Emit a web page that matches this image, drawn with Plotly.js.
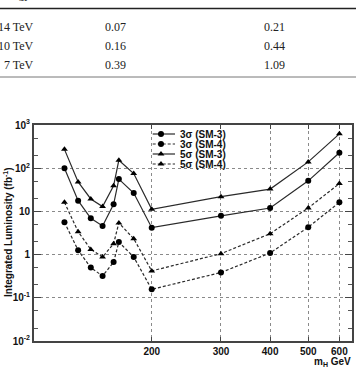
<!DOCTYPE html>
<html>
<head>
<meta charset="utf-8">
<script src="https://cdn.plot.ly/plotly-3.0.1.min.js"></script>
<style>html,body{margin:0;padding:0;background:#fff;}#chart{width:356px;height:368px;}</style>
</head>
<body>
<div id="chart"></div>
<script>
// ---- data ----
const masses = [120, 130, 140, 150, 160, 165, 180, 200, 300, 400, 500, 600];
const sigma3_SM3 = [100, 17.7, 6.9, 4.6, 14.6, 56, 26.6, 4.2, 7.9, 12, 51, 228];
const sigma3_SM4 = [5.6, 1.26, 0.50, 0.32, 0.67, 1.95, 0.88, 0.157, 0.385, 1.09, 4.3, 16.2];
const sigma5_SM3 = [273, 48, 19.4, 12.9, 39, 153, 75, 11.2, 21.9, 32.9, 140, 624];
const sigma5_SM4 = [16.2, 3.4, 1.32, 0.88, 1.79, 5.4, 2.33, 0.42, 1.05, 3.04, 12, 44];
const seriesNames = ['3σ (SM-3)', '3σ (SM-4)', '5σ (SM-3)', '5σ (SM-4)'];
const xTickVals = [200, 300, 400, 500, 600];
const xTickText = ['200', '300', '400', '500', '600'];
const yTickVals = [0.01, 0.1, 1, 10, 100, 1000];
const yTickText = ['10<sup>-2</sup>', '10<sup>-1</sup>', '1', '10', '10<sup>2</sup>', '10<sup>3</sup>'];
// table above the figure
const tableEnergy = ['14 TeV', '10 TeV', '7 TeV'];
const tableCol1 = ['0.07', '0.16', '0.39'];
const tableCol2 = ['0.21', '0.44', '1.09'];

// ---- styling ----
const seriesY = [sigma3_SM3, sigma3_SM4, sigma5_SM3, sigma5_SM4];
const symbols = ['circle', 'circle', 'triangle-up', 'triangle-up'];
const dashes = ['solid', '3px,2px', 'solid', '3px,2px'];
const sizes = [6, 6, 6, 6];
const SANS = 'Liberation Sans, Arial, sans-serif';
const SERIF = 'Liberation Serif, Times New Roman, serif';

// plot area in pixels
const L = 34, R = 352, T = 125, B = 341, W = 356, H = 368;
const px = x => (x - L) / (R - L);
const py = y => (B - y) / (B - T);

const traces = seriesY.map((ys, i) => ({
  x: masses, y: ys, type: 'scatter', mode: 'lines+markers',
  name: seriesNames[i], showlegend: false,
  line: {color: '#2a2a2a', width: 1.2, dash: dashes[i]},
  marker: {symbol: symbols[i], size: sizes[i], color: '#000'}
}));

// custom compact legend (samples on an overlay 0..1 axis pair)
const legRowsPx = [134, 144, 154, 164];
const annotations = [];
seriesNames.forEach((n, i) => {
  const yy = py(legRowsPx[i]);
  traces.push({
    x: [px(152.7), px(175)], y: [yy, yy], xaxis: 'x2', yaxis: 'y2',
    type: 'scatter', mode: 'lines', showlegend: false, hoverinfo: 'skip',
    line: {color: '#2a2a2a', width: 1.2, dash: dashes[i]}
  });
  traces.push({
    x: [px(161)], y: [yy], xaxis: 'x2', yaxis: 'y2',
    type: 'scatter', mode: 'markers', showlegend: false, hoverinfo: 'skip',
    marker: {symbol: symbols[i], size: sizes[i], color: '#000'}
  });
  annotations.push({
    xref: 'paper', yref: 'paper', x: px(177.5), y: yy, xanchor: 'left', yanchor: 'middle',
    text: n, showarrow: false, font: {family: SANS, size: 10, color: '#111', weight: 'bold'}
  });
});

// axis titles
annotations.push({
  xref: 'paper', yref: 'paper', x: px(8), y: py(232), textangle: -90,
  text: 'Integrated Luminosity (fb<sup>-1</sup>)', showarrow: false,
  xanchor: 'center', yanchor: 'middle',
  font: {family: SANS, size: 10, color: '#111', weight: 'bold'}
});
annotations.push({
  xref: 'paper', yref: 'paper', x: px(353), y: py(362), xanchor: 'right', yanchor: 'middle',
  text: 'm<sub>H</sub> GeV', showarrow: false,
  font: {family: SANS, size: 10, color: '#111', weight: 'bold'}
});

// table text
const rowY = [26.7, 45.7, 64.8];
tableEnergy.forEach((e, i) => {
  annotations.push({xref: 'paper', yref: 'paper', x: px(36), y: py(rowY[i]), xanchor: 'right', yanchor: 'middle',
    text: e, showarrow: false, font: {family: SERIF, size: 12, color: '#222'}});
  annotations.push({xref: 'paper', yref: 'paper', x: px(103), y: py(rowY[i]), xanchor: 'left', yanchor: 'middle',
    text: tableCol1[i], showarrow: false, font: {family: SERIF, size: 12, color: '#222'}});
  annotations.push({xref: 'paper', yref: 'paper', x: px(262), y: py(rowY[i]), xanchor: 'left', yanchor: 'middle',
    text: tableCol2[i], showarrow: false, font: {family: SERIF, size: 12, color: '#222'}});
});
annotations.push({xref: 'paper', yref: 'paper', x: px(32), y: py(-5.5), xanchor: 'right', yanchor: 'middle',
  text: 'Energy', showarrow: false, font: {family: SERIF, size: 12, color: '#222'}});

const shapes = [
  {type: 'line', xref: 'paper', yref: 'paper', x0: px(0), x1: px(356), y0: py(8.5), y1: py(8.5),
   line: {color: '#222', width: 1.6}},
  {type: 'line', xref: 'paper', yref: 'paper', x0: px(0), x1: px(356), y0: py(77), y1: py(77),
   line: {color: '#777', width: 1}},
  {type: 'rect', xref: 'paper', yref: 'paper', x0: px(147), x1: px(268), y0: py(187), y1: py(126),
   fillcolor: '#fff', line: {width: 0}, layer: 'between'}
];

const layout = {
  width: W, height: H,
  margin: {l: L, r: W - R, t: T, b: H - B, pad: 0},
  paper_bgcolor: '#fff', plot_bgcolor: '#fff',
  showlegend: false,
  font: {family: SANS, size: 10, color: '#111'},
  xaxis: {
    type: 'log', range: [Math.log10(100.4), Math.log10(646)],
    tickmode: 'array', tickvals: xTickVals, ticktext: xTickText,
    ticks: 'inside', ticklen: 4, tickcolor: '#444', mirror: 'allticks',
    showline: true, linewidth: 2, linecolor: '#444',
    showgrid: true, gridcolor: '#8a8a8a', griddash: 'dot', gridwidth: 1,
    zeroline: false, tickfont: {family: SANS, size: 10, color: '#111', weight: 'bold'}
  },
  yaxis: {
    type: 'log', range: [-2, 3],
    tickmode: 'array', tickvals: yTickVals, ticktext: yTickText,
    ticks: 'inside', ticklen: 7, tickcolor: '#444', mirror: 'allticks',
    minor: {ticks: 'inside', ticklen: 4, tickcolor: '#555', showgrid: false},
    showline: true, linewidth: 2, linecolor: '#444',
    showgrid: true, gridcolor: '#8a8a8a', griddash: 'dot', gridwidth: 1,
    zeroline: false, tickfont: {family: SANS, size: 10, color: '#111', weight: 'bold'}
  },
  xaxis2: {overlaying: 'x', range: [0, 1], visible: false, fixedrange: true},
  yaxis2: {overlaying: 'y', anchor: 'x2', range: [0, 1], visible: false, fixedrange: true},
  annotations: annotations,
  shapes: shapes
};

Plotly.newPlot('chart', traces, layout, {staticPlot: true, displayModeBar: false});
</script>
</body>
</html>
